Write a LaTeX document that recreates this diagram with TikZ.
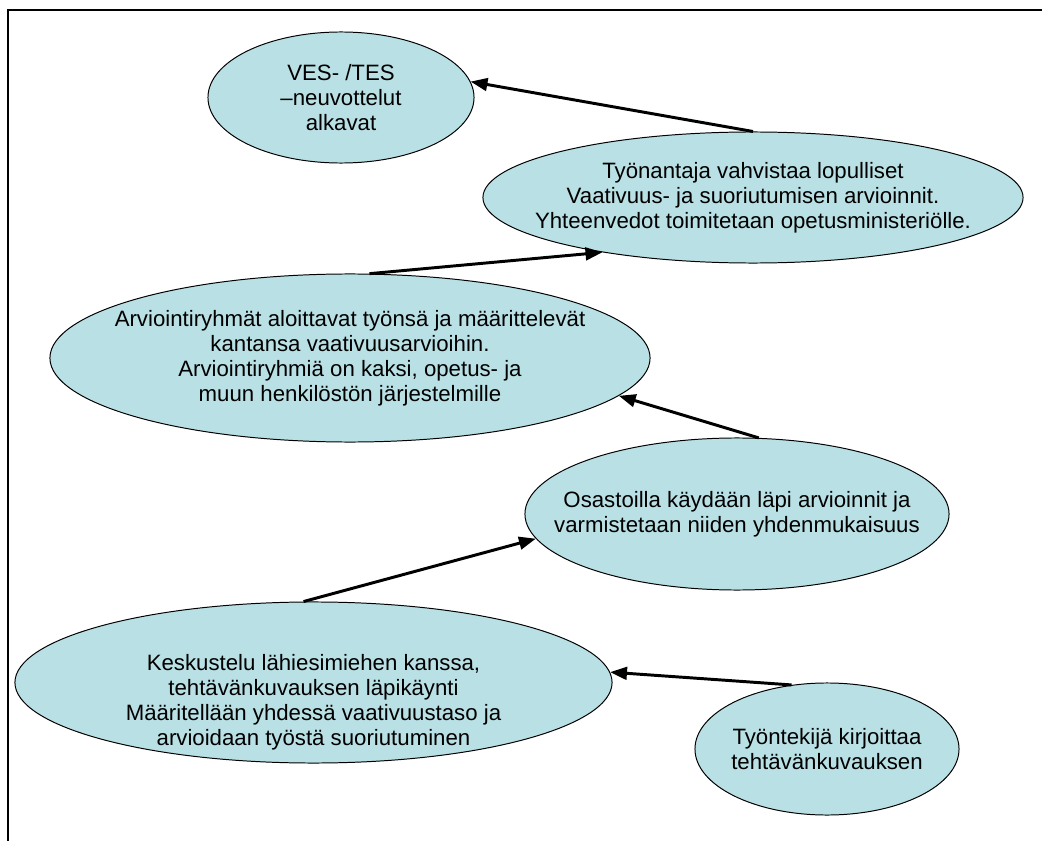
\documentclass[tikz,border=0pt]{standalone}
\usepackage{fontspec}
\setmainfont{Liberation Sans}
\usetikzlibrary{shapes.geometric,arrows.meta}
\definecolor{bubblefill}{RGB}{185,224,228}

\begin{document}
\begin{tikzpicture}[x=0.025cm, y=-0.025cm,
  bubble/.style={ellipse, draw, fill=bubblefill, line width=0.7pt, inner sep=0pt},
  btext/.style={align=center, inner sep=0pt, font=\fontsize{15.8}{17.8}\selectfont},
  flow/.style={-{Triangle[length=12pt,width=9pt]}, line width=2.1pt},
  frame/.style={line width=1.4pt}]
\useasboundingbox (0,0) rectangle (1042,841);
\draw[frame] (8,841) -- (8,10) -- (1042,10);

\node [bubble, minimum width=6.65cm, minimum height=3.275cm] (e1) at (341,97.5) {};
\node [bubble, minimum width=13.5cm, minimum height=3.275cm] (e2) at (753,197.5) {};
\node [bubble, minimum width=15cm, minimum height=4.2cm] (e3) at (350,358) {};
\node [bubble, minimum width=10.6cm, minimum height=3.8cm] (e4) at (737,514) {};
\node [bubble, minimum width=14.925cm, minimum height=4.025cm] (e5) at (313.5,682.5) {};
\node [bubble, minimum width=6.6cm, minimum height=3.3cm] (e6) at (827,749) {};

\node [btext] (t1) at (e1) {VES- /TES\\–neuvottelut\\alkavat};
\node [btext] (t2) at (e2) {Työnantaja vahvistaa lopulliset\\Vaativuus- ja suoriutumisen arvioinnit.\\Yhteenvedot toimitetaan opetusministeriölle.};
\node [btext] (t3) at (e3) {Arviointiryhmät aloittavat työnsä ja määrittelevät\\kantansa vaativuusarvioihin.\\Arviointiryhmiä on kaksi, opetus- ja\\muun henkilöstön järjestelmille};
\node [btext] (t4) at (e4) {Osastoilla käydään läpi arvioinnit ja\\varmistetaan niiden yhdenmukaisuus};
\node [btext, yshift=-0.5cm] (t5) at (e5) {Keskustelu lähiesimiehen kanssa,\\tehtävänkuvauksen läpikäynti\\Määritellään yhdessä vaativuustaso ja\\arvioidaan työstä suoriutuminen};
\node [btext] (t6) at (e6) {Työntekijä kirjoittaa\\tehtävänkuvauksen};

\draw[flow] (e2.north) -- (e1.7);
\draw[flow] (e3.77) -- (e2.200);
\draw[flow] (e4.74) -- (e3.-8);
\draw[flow] (e5.97) -- (e4.187);
\draw[flow] (e6.119) -- (e5.2);
\end{tikzpicture}
\end{document}
